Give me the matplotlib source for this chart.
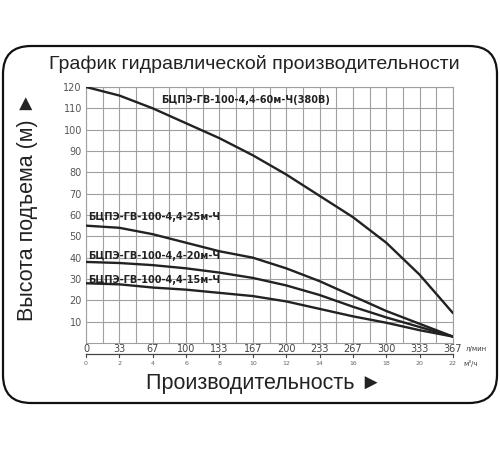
import numpy as np
import matplotlib
matplotlib.use('Agg')
import matplotlib.pyplot as plt
from matplotlib.patches import FancyBboxPatch

###############################################################################
# data
flow_m3h = [0, 2, 4, 6, 8, 10, 12, 14, 16, 18, 20, 22]
flow_lpm = ['0', '33', '67', '100', '133', '167', '200', '233', '267', '300', '333', '367']

head_60 = [120, 116, 110, 103, 96, 88, 79, 69, 59, 47, 32, 14]
head_25 = [55, 54, 51, 47, 43, 40, 35, 29, 22, 15, 9, 3]
head_20 = [38, 37.5, 36.5, 35, 33, 30.5, 27, 22.5, 17, 12, 7.5, 3]
head_15 = [28, 27.5, 26, 25, 23.5, 22, 19.5, 16, 12.5, 9.5, 6, 3]

label_60 = 'БЦПЭ-ГВ-100-4,4-60м-Ч(380В)'
label_25 = 'БЦПЭ-ГВ-100-4,4-25м-Ч'
label_20 = 'БЦПЭ-ГВ-100-4,4-20м-Ч'
label_15 = 'БЦПЭ-ГВ-100-4,4-15м-Ч'
###############################################################################

fonts = ['Liberation Sans', 'DejaVu Sans']
fig = plt.figure(figsize=(5, 4.5), dpi=100)

# background axes in pixel units for the frame and big labels
bg = fig.add_axes([0, 0, 1, 1])
bg.set_xlim(0, 500)
bg.set_ylim(450, 0)
bg.axis('off')
frame = FancyBboxPatch((3, 46), 494, 357, boxstyle='round,pad=0,rounding_size=28',
                       fc='white', ec='#111111', lw=1.6)
bg.add_patch(frame)
bg.text(254, 64, 'График гидравлической производительности', family=fonts,
        fontsize=14, color='#222222', ha='center', va='center')
bg.text(28, 207, 'Высота подъема (м) ►', family=fonts, fontsize=15.5,
        color='#222222', ha='center', va='center', rotation=90)
bg.text(264, 383, 'Производительность ►', family=fonts, fontsize=15.5,
        color='#222222', ha='center', va='center')

# main chart
ax = fig.add_axes([86/500, 1-343/450, (453-86)/500, (343-87)/450])
ax.set_xlim(0, 22)
ax.set_ylim(0, 120)
ax.set_xticks(np.arange(0, 23, 1))
ax.set_yticks(np.arange(10, 121, 10))
ax.grid(True, color='#a0a0a0', lw=0.8)
ax.tick_params(axis='both', length=0, colors='#555555', labelsize=7)
ax.set_xticklabels([])
ax.tick_params(axis='y', pad=3)
for s in ax.spines.values():
    s.set_color('#a0a0a0')
    s.set_linewidth(0.8)

for h in [head_60, head_25, head_20, head_15]:
    ax.plot(flow_m3h, h, color='#222222', lw=1.7, solid_capstyle='round', zorder=3)

ax.text(4.5, 114, label_60, fontsize=7, weight='bold', color='#222222', va='center')
ax.text(0.1, 59, label_25, fontsize=7, weight='bold', color='#222222', va='center')
ax.text(0.1, 41, label_20, fontsize=7, weight='bold', color='#222222', va='center')
ax.text(0.1, 29.5, label_15, fontsize=7, weight='bold', color='#222222', va='center')

# double flow scale under the chart
tr = ax.get_xaxis_transform()
for q, lab in zip(flow_m3h, flow_lpm):
    ax.text(q, -0.022, lab, transform=tr, fontsize=7, color='#444444',
            ha='center', va='center', clip_on=False)
    ax.text(q, -0.082, str(q), transform=tr, fontsize=4.5, color='#666666',
            ha='center', va='center', clip_on=False)
    ax.plot([q, q], [-0.043, -0.055], transform=tr, color='#444444', lw=0.8, clip_on=False)
ax.plot([0, 22], [-0.043, -0.043], transform=tr, color='#444444', lw=0.9, clip_on=False)
ax.text(22.75, -0.022, 'л/мин', transform=tr, fontsize=5, color='#444444',
        ha='left', va='center', clip_on=False)
ax.text(22.6, -0.082, 'м³/ч', transform=tr, fontsize=5, color='#444444',
        ha='left', va='center', clip_on=False)

fig.savefig('out.png', dpi=100)
